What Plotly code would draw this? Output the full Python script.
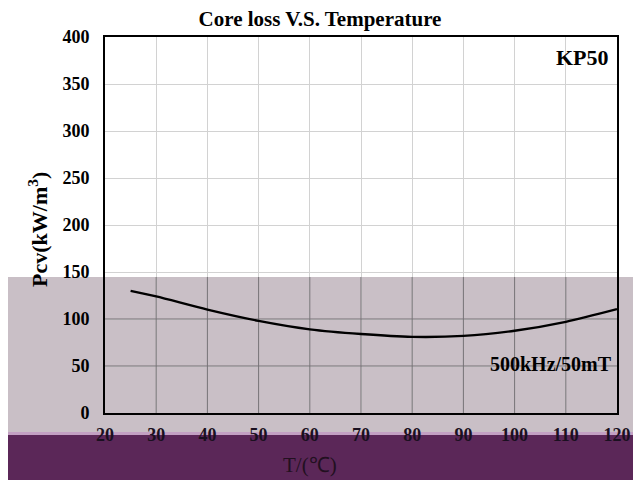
import plotly.graph_objects as go

# ---- data ----
temps = [25, 30, 40, 50, 60, 70, 80, 90, 100, 110, 120]
pcv = [130, 124, 110, 98, 89, 84, 81, 82, 87.5, 97, 110.5]
x_ticks = [20, 30, 40, 50, 60, 70, 80, 90, 100, 110, 120]
y_ticks = [0, 50, 100, 150, 200, 250, 300, 350, 400]

X_RANGE = [20, 120]
Y_RANGE = [0, 400]

# page has an 8px body margin, so the figure is 8px smaller and offset
OFF = 8
W, H = 643 - OFF, 480 - OFF
L, T = 105 - OFF, 37 - OFF
R = W - (617 - OFF)
B = H - (413 - OFF)
PW, PH = W - L - R, H - T - B

def px(xp):
    return (xp - OFF - L) / PW

def py(yp):
    return (H - B - (yp - OFF)) / PH

SERIF = "Liberation Serif, Times New Roman, serif"

fig = go.Figure()
fig.add_trace(go.Scatter(
    x=temps, y=pcv, mode="lines",
    line=dict(color="black", width=2.4, shape="spline", smoothing=0.8),
    showlegend=False, hoverinfo="skip"))

GRAY_TOP = py(277)
GRAY_BOTTOM = py(432)
STRIP_BOTTOM = py(435)
BAND_BOTTOM = py(490)
X_LEFT = px(2)
X_RIGHT = px(633)

shapes = [
    dict(type="rect", xref="paper", yref="paper", x0=X_LEFT, x1=X_RIGHT,
         y0=GRAY_BOTTOM, y1=GRAY_TOP, fillcolor="#c9bfc6", line_width=0, layer="below"),
    dict(type="rect", xref="paper", yref="paper", x0=X_LEFT, x1=X_RIGHT,
         y0=STRIP_BOTTOM, y1=GRAY_BOTTOM, fillcolor="#c3a0c3", line_width=0, layer="below"),
    dict(type="rect", xref="paper", yref="paper", x0=X_LEFT, x1=X_RIGHT,
         y0=BAND_BOTTOM, y1=STRIP_BOTTOM, fillcolor="#5b2758", line_width=0, layer="below"),
]
gray_top_val = GRAY_TOP * Y_RANGE[1]
for t in x_ticks[1:-1]:
    shapes.append(dict(type="line", xref="x", yref="y", x0=t, x1=t, y0=0, y1=gray_top_val,
                       line=dict(color="#767176", width=1), layer="between"))
for v in y_ticks:
    if 0 < v < gray_top_val:
        shapes.append(dict(type="line", xref="x", yref="y", x0=X_RANGE[0], x1=X_RANGE[1], y0=v, y1=v,
                           line=dict(color="#767176", width=1), layer="between"))

fig.update_layout(
    width=W, height=H,
    margin=dict(l=L, r=R, t=T, b=B),
    paper_bgcolor="white",
    plot_bgcolor="rgba(0,0,0,0)",
    shapes=shapes,
    title=dict(text="<b>Core loss V.S. Temperature</b>", x=(320 - OFF) / W, xanchor="center",
               y=1 - (19 - OFF) / H, yanchor="middle",
               font=dict(family=SERIF, size=21, color="black")),
    xaxis=dict(range=X_RANGE, tickvals=x_ticks, ticktext=[f"<b>{t}</b>" for t in x_ticks],
               showgrid=True, gridcolor="#d2d2d2", gridwidth=1,
               showline=True, linecolor="black", linewidth=1.8, mirror=True,
               ticks="", ticklabelstandoff=4, zeroline=False,
               tickfont=dict(family=SERIF, size=18, color="#1a1020")),
    yaxis=dict(range=Y_RANGE, tickvals=y_ticks, ticktext=[f"<b>{v}</b>" for v in y_ticks],
               showgrid=True, gridcolor="#d2d2d2", gridwidth=1,
               showline=True, linecolor="black", linewidth=1.8, mirror=True,
               ticks="", ticklabelstandoff=10, zeroline=False,
               tickfont=dict(family=SERIF, size=18, color="black")),
    annotations=[
        dict(text="<b>KP50</b>", xref="paper", yref="paper", x=px(611), y=py(57),
             xanchor="right", yanchor="middle", showarrow=False,
             font=dict(family=SERIF, size=22, color="black")),
        dict(text="<b>500kHz/50mT</b>", xref="paper", yref="paper", x=px(614), y=py(364),
             xanchor="right", yanchor="middle", showarrow=False,
             font=dict(family=SERIF, size=20, color="black")),
        dict(text="<b>Pcv(kW/m<sup>3</sup>)</b>", xref="paper", yref="paper",
             x=px(38), y=py(230), xanchor="center", yanchor="middle",
             textangle=-90, showarrow=False,
             font=dict(family=SERIF, size=22, color="black")),
        dict(text="T/(℃)", xref="paper", yref="paper",
             x=px(310), y=py(465), xanchor="center", yanchor="middle",
             showarrow=False, font=dict(family=SERIF, size=21, color="#221020")),
    ],
)

fig.write_html("out.html")
